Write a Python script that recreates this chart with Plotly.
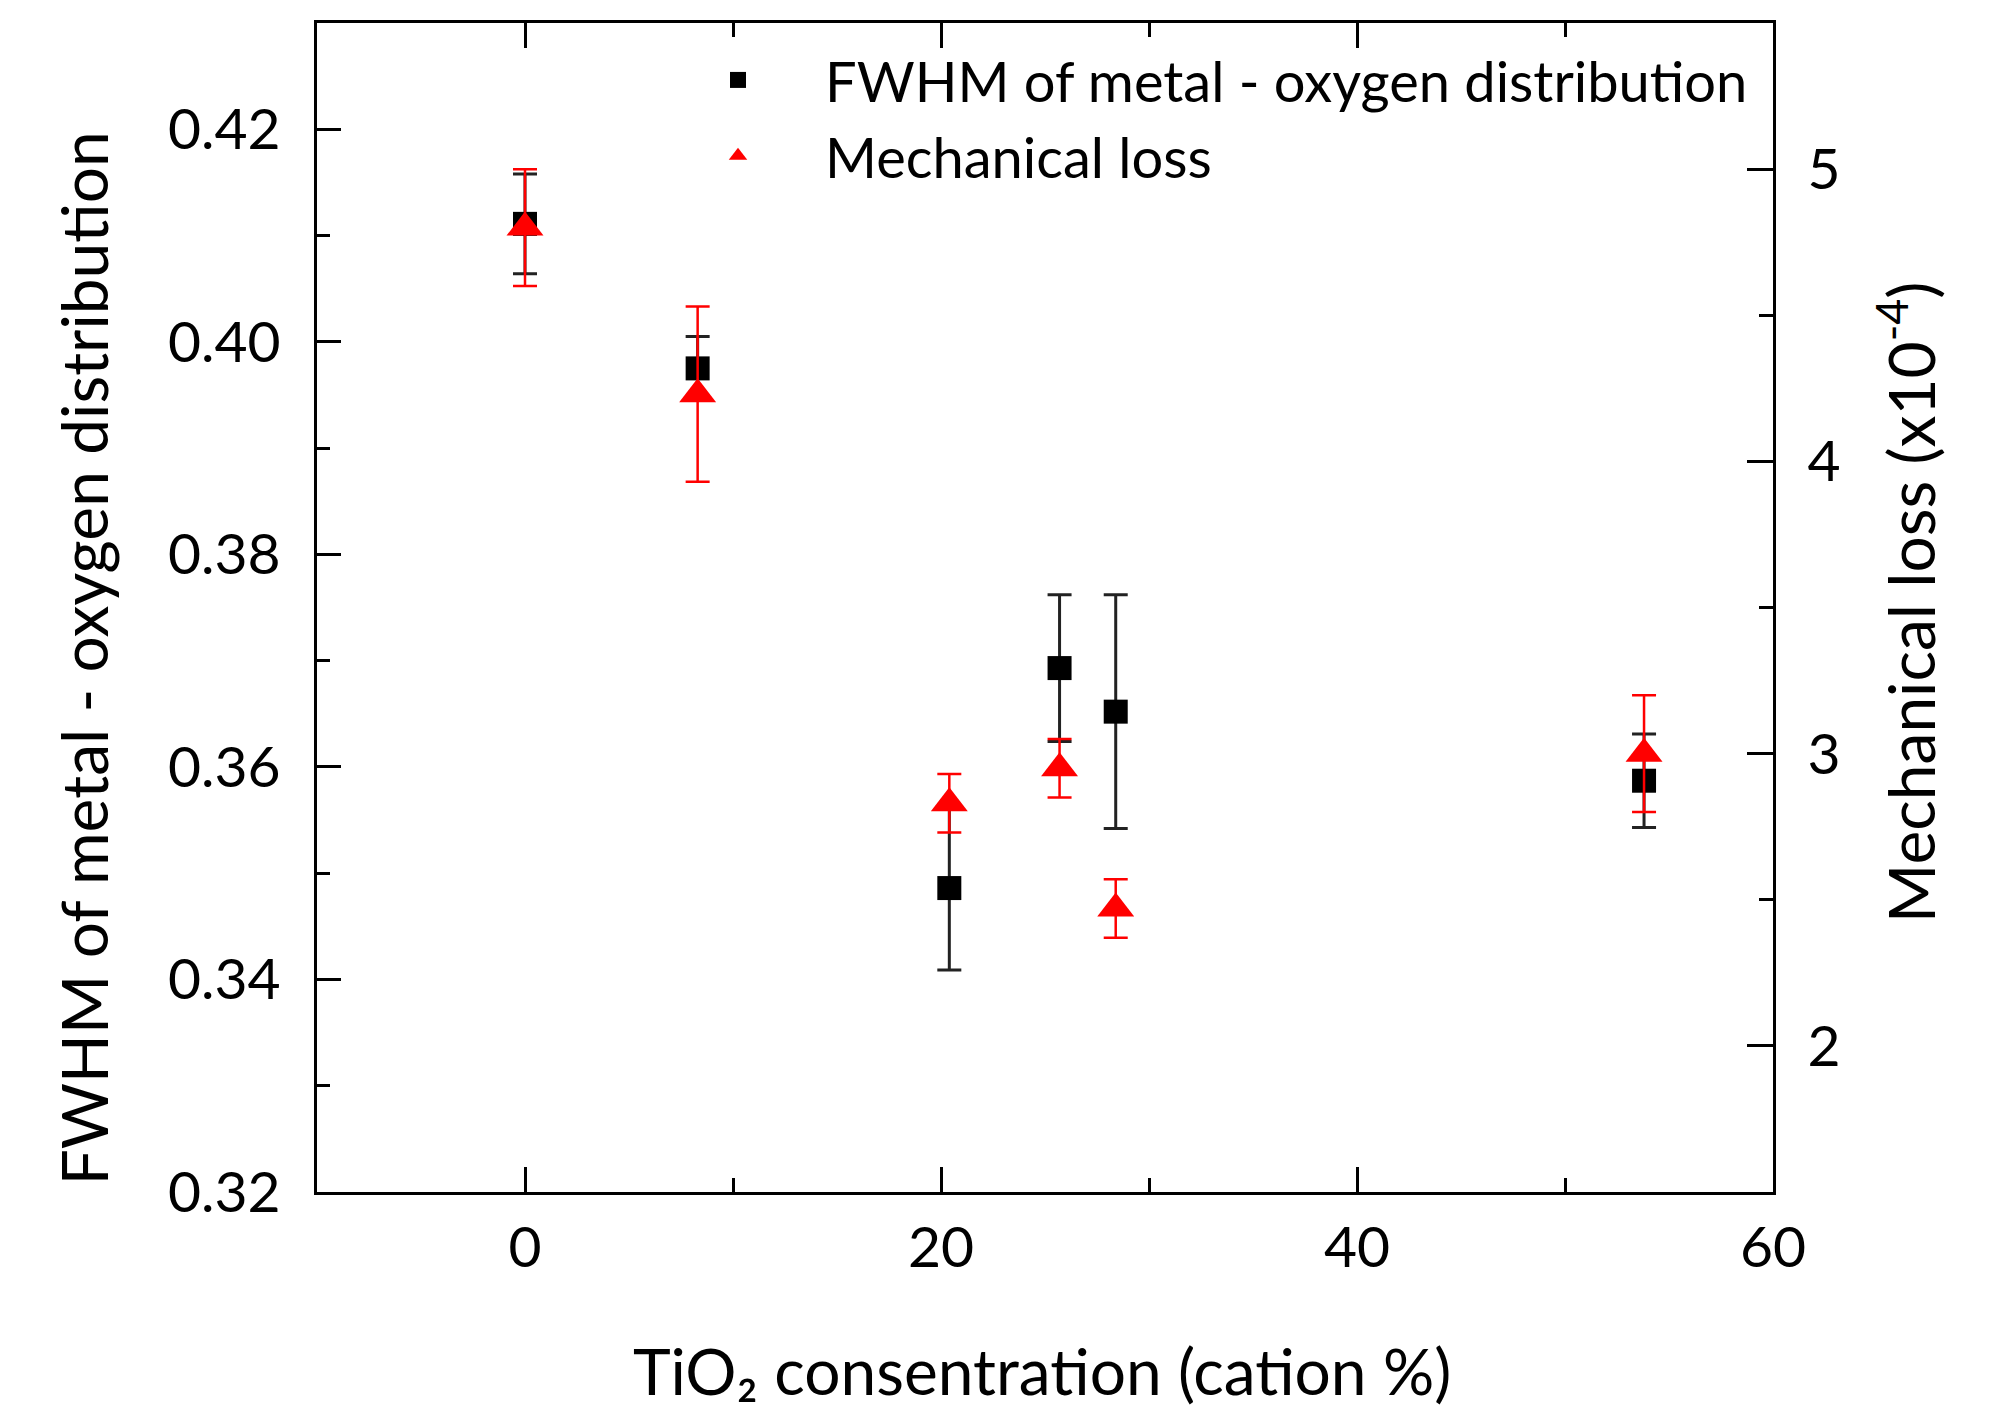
import plotly.graph_objects as go

# TiO2 concentration (cation %)
conc = [0, 8.3, 20.4, 25.7, 28.4, 53.8]
# FWHM of metal - oxygen distribution (left axis)
fwhm = [0.4111, 0.3975, 0.3486, 0.3693, 0.3652, 0.3587]
fwhm_err = [0.0047, 0.0030, 0.0077, 0.0069, 0.0110, 0.0044]
# Mechanical loss (x10^-4) (right axis)
loss = [4.80, 4.23, 2.83, 2.95, 2.47, 3.00]
loss_err = [0.20, 0.30, 0.10, 0.10, 0.10, 0.20]

x_title = "TiO₂ consentration (cation %)"
y_title = "FWHM of metal - oxygen distribution"
y2_title = "Mechanical loss (x10<sup>-4</sup>)"

FONT = "Lato"
fig = go.Figure()
fig.add_trace(go.Scatter(
    x=conc, y=fwhm, mode="markers", name="FWHM of metal - oxygen distribution",
    marker=dict(symbol="square", size=24, color="black"),
    error_y=dict(type="data", array=fwhm_err, color="#222222", thickness=3, width=12),
    yaxis="y"))
fig.add_trace(go.Scatter(
    x=conc, y=loss, mode="markers", name="Mechanical loss",
    marker=dict(symbol="triangle-up", size=32, color="#ff0000"),
    error_y=dict(type="data", array=loss_err, color="#ff0000", thickness=2.5, width=12),
    yaxis="y2"))

axis_common = dict(showgrid=False, zeroline=False, showline=True, linecolor="black",
                   linewidth=3, ticks="inside", tickwidth=3, tickcolor="black",
                   tickfont=dict(family=FONT, size=57, color="black"))

fig.update_layout(
    width=1977, height=1404,
    margin=dict(l=309, r=212, t=12, b=220),
    plot_bgcolor="white", paper_bgcolor="white",
    font=dict(family=FONT, size=57, color="black"),
    showlegend=True,
    legend=dict(x=0.2294, y=0.988, xanchor="left", yanchor="top",
                bgcolor="rgba(0,0,0,0)", itemwidth=164,
                font=dict(family=FONT, size=56, color="black")),
    xaxis=dict(range=[-10, 60], tick0=0, dtick=20, ticklen=25, mirror="ticks",
               ticklabelstandoff=4,
               minor=dict(dtick=10, ticks="inside", ticklen=14, tickwidth=3, tickcolor="black"),
               **axis_common),
    yaxis=dict(range=[0.32, 0.43], tick0=0.32, dtick=0.02, tickformat=".2f", ticklen=24,
               ticklabelstandoff=22,
               minor=dict(dtick=0.01, ticks="inside", ticklen=13, tickwidth=3, tickcolor="black"),
               **axis_common),
    yaxis2=dict(range=[1.5, 5.5], tick0=2, dtick=1, ticklen=26, overlaying="y", side="right",
                ticklabelstandoff=20,
                minor=dict(dtick=0.5, ticks="inside", ticklen=14, tickwidth=3, tickcolor="black"),
                **axis_common),
    annotations=[
        dict(text=x_title, xref="paper", yref="paper", x=0.498, y=-0.1525,
             xanchor="center", yanchor="middle", showarrow=False,
             font=dict(family=FONT, size=64, color="black")),
        dict(text=y_title, xref="paper", yref="paper", x=-0.1607, y=0.4565,
             xanchor="center", yanchor="middle", showarrow=False, textangle=-90,
             font=dict(family=FONT, size=64, color="black")),
        dict(text=y2_title, xref="paper", yref="paper", x=1.0921, y=0.504,
             xanchor="center", yanchor="middle", showarrow=False, textangle=-90,
             font=dict(family=FONT, size=64, color="black")),
    ],
)

fig.write_html("out.html")
